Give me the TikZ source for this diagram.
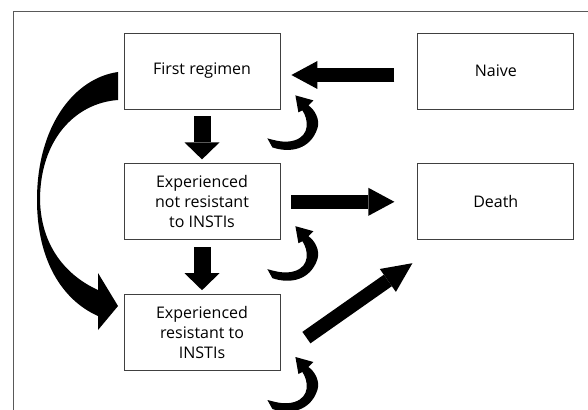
\documentclass[tikz,border=0pt]{standalone}
\usepackage{fontspec}
\setmainfont{Open Sans}
\usetikzlibrary{arrows.meta,positioning}

\tikzset{
    state/.style={draw=black!75, line width=0.8pt, minimum width=156pt, minimum height=76pt,
        inner sep=0pt, align=center, font=\fontsize{16}{20}\selectfont},
    fat/.style={line width=14pt, -{Triangle[width=28pt,length=26pt,line width=0pt]}},
    fatdown/.style={line width=17pt, -{Triangle[width=35pt,length=17pt,line width=0pt]}},
    selfloop/.pic={
        \fill (-8,38) .. controls (10,44) and (30,40) .. (37,19)
            .. controls (40,10) and (34,0) .. (28,-4) -- (33,-9) -- (15,-14) -- (18,3) -- (22,1)
            .. controls (28,10) and (30,26) .. (14,31)
            .. controls (4,34) and (-5,31) .. (-13,29) -- cycle;
    }
}

\begin{document}
\begin{tikzpicture}[x=1pt, y=-1pt]
    \useasboundingbox (0,0) rectangle (588,409);
    % frame
    \draw[black!65, line width=1.1pt] (13.5,420) -- (13.5,11.5) -- (600,11.5);

    % states
    \node[state] (regimen) at (202,71) {First regimen};
    \node[state, below=54pt of regimen] (notres) {Experienced\\not resistant\\to INSTIs};
    \node[state, below=54pt of notres] (res) {Experienced\\resistant to\\INSTIs};
    \node[state, right=137pt of regimen] (naive) {Naive};
    \node[state, right=137pt of notres] (death) {Death};

    % transitions
    \draw[fat, shorten <=23pt, shorten >=11pt] ([yshift=-4pt]naive.west) -- ([yshift=-4pt]regimen.east);
    \draw[fat, shorten <=11pt, shorten >=23pt] (notres.east) -- (death.west);
    \draw[fat, -{Triangle[width=28pt,length=30pt,line width=0pt]}]
        ([shift={(26,5)}]res.east) -- ([shift={(-5,23)}]death.south west);
    \draw[fatdown, shorten <=7pt, shorten >=4pt] (regimen) -- (notres);
    \draw[fatdown, shorten <=7pt, shorten >=4pt] (notres) -- (res);

    % regimen -> resistant
    \fill (118,72) .. controls (75,78) and (37,125) .. (37,200)
        .. controls (37,260) and (62,300) .. (98,316) -- (98,330) -- (118,306) -- (98,273) -- (98,290)
        .. controls (65,275) and (41,245) .. (40,200)
        .. controls (40,140) and (75,103) .. (118,100) -- cycle;

    % staying in a state
    \pic at (regimen.south east) {selfloop};
    \pic at (notres.south east) {selfloop};
    \pic at (res.south east) {selfloop};
\end{tikzpicture}
\end{document}
